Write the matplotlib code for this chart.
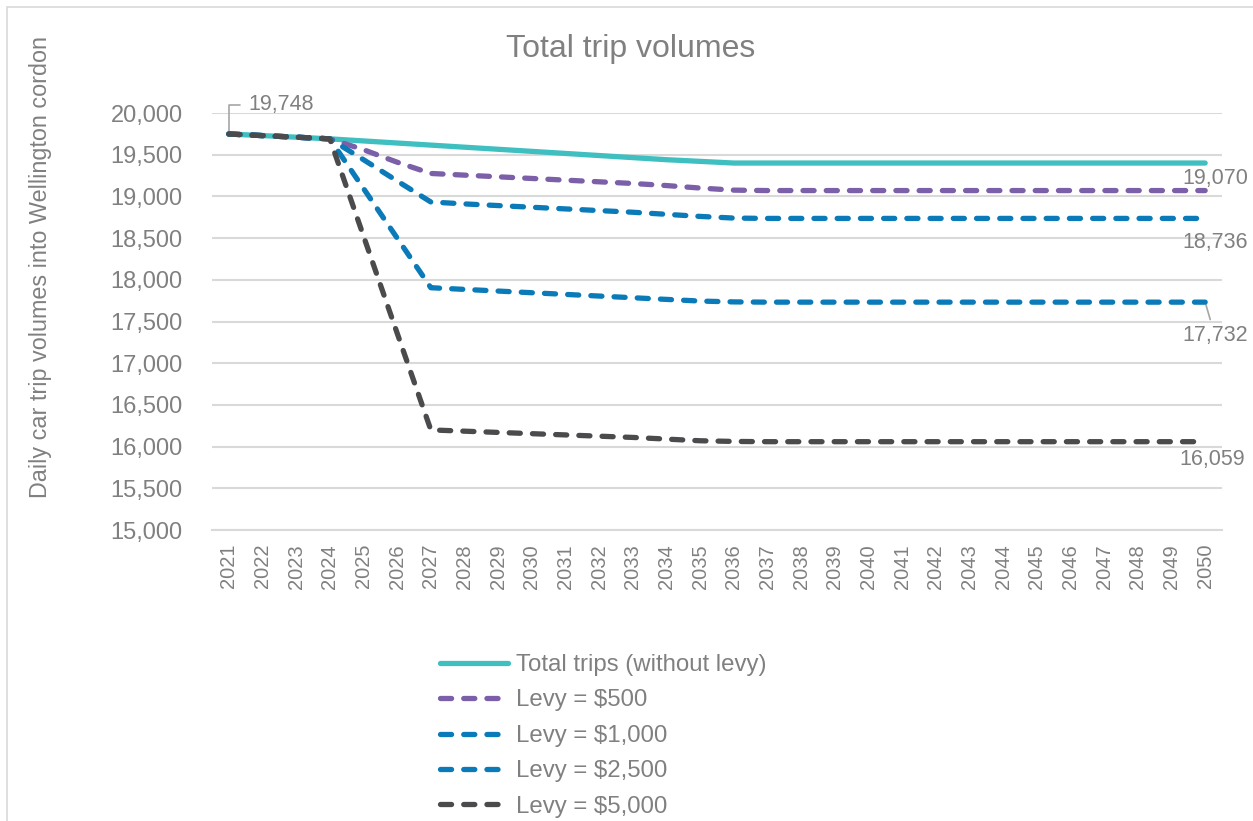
import numpy as np
import matplotlib
matplotlib.use("Agg")
import matplotlib.pyplot as plt
from matplotlib.patches import Rectangle

plt.rcParams['font.family'] = ['Liberation Sans', 'DejaVu Sans']

# data
years = list(range(2021, 2051))
no_levy = [19748, 19729, 19710, 19690, 19665, 19640, 19615, 19590, 19565, 19540,
           19515, 19490, 19465, 19440, 19420, 19400] + [19400] * 14
levy_500 = [19748, 19729, 19710, 19690, 19560, 19410, 19275, 19255, 19235, 19215,
            19195, 19175, 19155, 19130, 19100, 19075] + [19070] * 14
levy_1000 = [19748, 19729, 19710, 19690, 19440, 19185, 18933, 18910, 18890, 18870,
             18850, 18830, 18810, 18785, 18760, 18740] + [18736] * 14
levy_2500 = [19748, 19729, 19710, 19690, 19095, 18500, 17905, 17885, 17865, 17845,
             17825, 17805, 17785, 17765, 17745, 17735] + [17732] * 14
levy_5000 = [19748, 19729, 19710, 19690, 18525, 17360, 16200, 16185, 16170, 16155,
             16140, 16125, 16110, 16090, 16070, 16062] + [16059] * 14
labels = ["Total trips (without levy)", "Levy = $500", "Levy = $1,000",
          "Levy = $2,500", "Levy = $5,000"]
colors = ["#40BFC1", "#7B5FA8", "#0A7BB8", "#0A7BB8", "#4B4B4D"]

txt = "#808080"
grid = "#D9D9D9"

fig = plt.figure(figsize=(12.53, 8.21), dpi=100)
ax = fig.add_axes([212 / 1253, 1 - 530 / 821, 1010 / 1253, 417 / 821])

# light outer border like the original chart area
fig.patches.append(Rectangle((7 / 1253, -0.01), 1.02, 1 - 7 / 821 + 0.01,
                             transform=fig.transFigure, fill=False,
                             edgecolor="#D9D9D9", lw=1.2))

series = [no_levy, levy_500, levy_1000, levy_2500, levy_5000]
lw = 3.8
for i, (s, lab, c) in enumerate(zip(series, labels, colors)):
    if i == 0:
        ax.plot(years, s, color=c, lw=lw, solid_capstyle="round",
                solid_joinstyle="round", label=lab, zorder=3)
    else:
        ax.plot(years, s, color=c, lw=lw, dashes=(2.1, 2.3),
                dash_capstyle="round", dash_joinstyle="round", label=lab,
                zorder=3 + i)

ax.set_xlim(2020.5, 2050.5)
ax.set_ylim(15000, 20000)
ax.set_yticks(np.arange(15000, 20001, 500))
ax.set_yticklabels([f"{v:,}" for v in range(15000, 20001, 500)])
ax.set_xticks(years)
ax.set_xticklabels([str(y) for y in years], rotation=90)
ax.tick_params(axis="y", length=0, labelsize=17, labelcolor=txt, pad=21)
ax.tick_params(axis="x", length=0, labelsize=14.5, labelcolor=txt, pad=10)
ax.grid(axis="y", color=grid, lw=1.5)
ax.set_axisbelow(True)
for sp in ["top", "right", "left"]:
    ax.spines[sp].set_visible(False)
ax.spines["bottom"].set_color(grid)
ax.spines["bottom"].set_linewidth(1.5)

fig.text(631 / 1253, 1 - 49 / 821, "Total trip volumes", fontsize=23,
         color=txt, ha="center", va="center")
fig.text(41 / 1253, 1 - 267 / 821, "Daily car trip volumes into Wellington cordon",
         fontsize=16.8, color=txt, rotation=90, ha="center", va="center")

# data labels
lead = dict(arrowstyle="-", color="#A6A6A6", lw=1.2)
ax.annotate(f"{no_levy[0]:,}", xy=(years[0], no_levy[0]), xytext=(14, 21),
            textcoords="offset points", va="center", ha="left", fontsize=15.5,
            color=txt, annotation_clip=False,
            arrowprops=dict(lead, connectionstyle="angle,angleA=0,angleB=90,rad=0",
                            shrinkA=4, shrinkB=1))
ax.annotate(f"{levy_500[-1]:,}", xy=(years[-1], levy_500[-1]), xytext=(7, 8.5),
            textcoords="offset points", va="center", ha="center", fontsize=15.5,
            color=txt, annotation_clip=False)
ax.annotate(f"{levy_1000[-1]:,}", xy=(years[-1], levy_1000[-1]), xytext=(7, -17),
            textcoords="offset points", va="center", ha="center", fontsize=15.5,
            color=txt, annotation_clip=False)
ax.annotate(f"{levy_2500[-1]:,}", xy=(years[-1], levy_2500[-1]), xytext=(7, -24),
            textcoords="offset points", va="center", ha="center", fontsize=15.5,
            color=txt, annotation_clip=False,
            arrowprops=dict(lead, shrinkA=2, shrinkB=2))
ax.annotate(f"{levy_5000[-1]:,}", xy=(years[-1], levy_5000[-1]), xytext=(5, -13),
            textcoords="offset points", va="center", ha="center", fontsize=15.5,
            color=txt, annotation_clip=False)

leg = fig.legend(loc="upper left", bbox_to_anchor=(440 / 1253, 1 - 654 / 821),
                 frameon=False, fontsize=17.3, handlelength=2.85, handletextpad=0.3,
                 labelspacing=0.56, borderpad=0, borderaxespad=0)
for t in leg.get_texts():
    t.set_color(txt)

fig.savefig("out.png", dpi=100)
